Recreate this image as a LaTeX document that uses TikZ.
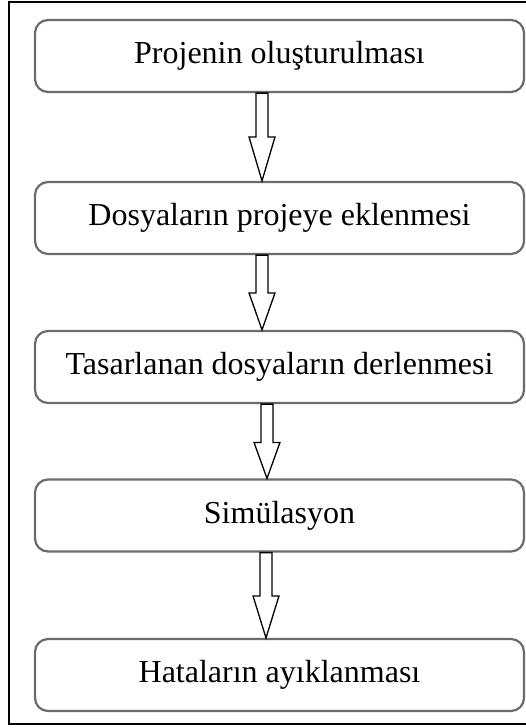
\documentclass[tikz,border=0pt]{standalone}
\usepackage{fontspec}
\setmainfont{Liberation Serif}
\usetikzlibrary{calc}

\tikzset{
  stepbox/.style={draw=black!58, line width=2.2pt, rounded corners=13pt, fill=white,
    minimum width=489pt, minimum height=72pt, inner sep=0pt,
    font=\fontsize{32}{38}\selectfont},
  flowarrow/.style={draw=black, line width=1.3pt, fill=white, line join=miter},
  frameline/.style={draw=black, line width=1.5pt}
}

% hollow block arrow: #1 upper box, #2 lower box, #3 axis coordinate, #4 head length
\newcommand\flowarr[4]{%
  \draw[flowarrow]
    ($(#1.south -| #3)+(-6,0)$) -- ($(#1.south -| #3)+(6,0)$)
    -- ($(#2.north -| #3)+(6,-#4)$) -- ($(#2.north -| #3)+(13,-#4)$)
    -- (#2.north -| #3)
    -- ($(#2.north -| #3)+(-13,-#4)$) -- ($(#2.north -| #3)+(-6,-#4)$) -- cycle;}

\begin{document}
\begin{tikzpicture}[x=1pt, y=-1pt]
  \useasboundingbox (0,0) rectangle (526,728);

  % outer frame
  \draw[frameline] (526,2) -- (9,2) -- (9,724) -- (526,724);

  % process steps
  \node[stepbox] (b1) at (279.5,56)  {Projenin oluşturulması};
  \node[stepbox] (b2) at (279.5,218) {Dosyaların projeye eklenmesi};
  \node[stepbox] (b3) at (279.5,367) {Tasarlanan dosyaların derlenmesi};
  \node[stepbox] (b4) at (279.5,515.5) {Simülasyon};
  \node[stepbox] (b5) at (279.5,675) {Hataların ayıklanması};

  % arrow axes
  \coordinate (a1) at (262,0);
  \coordinate (a2) at (262,0);
  \coordinate (a3) at (267,0);
  \coordinate (a4) at (266,0);

  \flowarr{b1}{b2}{a1}{44}
  \flowarr{b2}{b3}{a2}{37}
  \flowarr{b3}{b4}{a3}{36}
  \flowarr{b4}{b5}{a4}{42}
\end{tikzpicture}
\end{document}
